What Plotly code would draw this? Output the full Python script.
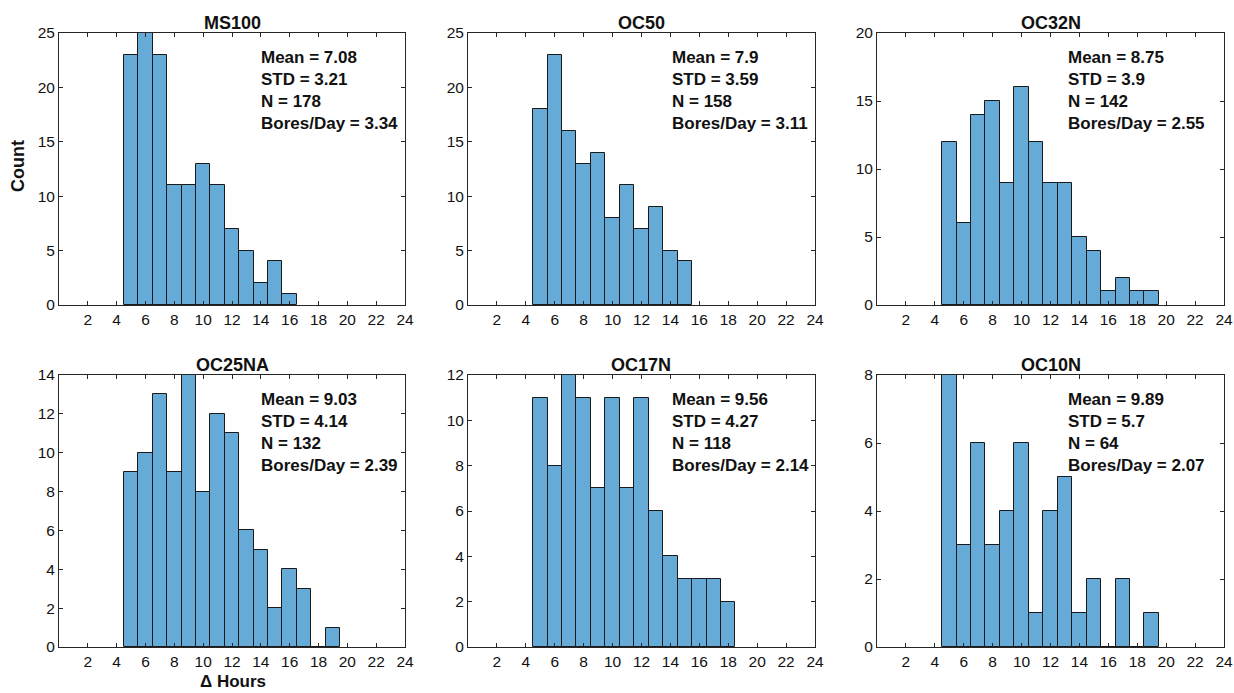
import plotly.graph_objects as go

# ---- data ----
titles = ["MS100", "OC50", "OC32N", "OC25NA", "OC17N", "OC10N"]
ms100 = [23, 25, 23, 11, 11, 13, 11, 7, 5, 2, 4, 1]
oc50 = [18, 23, 16, 13, 14, 8, 11, 7, 9, 5, 4]
oc32n = [12, 6, 14, 15, 9, 16, 12, 9, 9, 5, 4, 1, 2, 1, 1]
oc25na = [9, 10, 13, 9, 14, 8, 12, 11, 6, 5, 2, 4, 3, 0, 1]
oc17n = [11, 8, 12, 11, 7, 11, 7, 11, 6, 4, 3, 3, 3, 2]
oc10n = [8, 3, 6, 3, 4, 6, 1, 4, 5, 1, 2, 0, 2, 0, 1]
first_bin = 5  # bin centres start at 5 h, width 1 h
means = ["7.08", "7.9", "8.75", "9.03", "9.56", "9.89"]
stds = ["3.21", "3.59", "3.9", "4.14", "4.27", "5.7"]
ns = ["178", "158", "142", "132", "118", "64"]
bores = ["3.34", "3.11", "2.55", "2.39", "2.14", "2.07"]
ymax = [25, 25, 20, 14, 12, 8]
ystep = [5, 5, 5, 2, 2, 2]
xticks = list(range(2, 25, 2))

series = [ms100, oc50, oc32n, oc25na, oc17n, oc10n]

# ---- layout positions ----
W, H = 1234, 693
col_px = [(59, 405), (468, 815), (877, 1224)]
row_px = [(33, 305), (375, 647)]
text_x = [13.85, 14.0, 13.1, 13.85, 14.0, 13.1]

FONT = "Liberation Sans, Arial, Helvetica, sans-serif"
INK = "#262626"
BAR = "rgb(102,170,215)"

fig = go.Figure()
layout = dict(
    width=W, height=H, margin=dict(l=0, r=0, t=0, b=0, pad=0),
    paper_bgcolor="white", plot_bgcolor="white",
    showlegend=False, font=dict(family=FONT, color=INK, size=15),
    annotations=[], bargap=0,
)

for i, counts in enumerate(series):
    r, c = divmod(i, 3)
    ax = "" if i == 0 else str(i + 1)
    xs = [first_bin + k for k in range(len(counts))]
    fig.add_trace(go.Bar(
        x=xs, y=counts, width=1, xaxis="x" + ax, yaxis="y" + ax,
        marker=dict(color=BAR, line=dict(color="#1a1a1a", width=1)),
        hoverinfo="x+y",
    ))
    x0, x1 = col_px[c]
    y0, y1 = row_px[r]
    common = dict(showline=True, linecolor=INK, linewidth=1, mirror="ticks",
                  ticks="inside", ticklen=4, tickcolor=INK, showgrid=False,
                  zeroline=False, automargin=False,
                  tickfont=dict(family=FONT, size=15.5, color="#111"))
    layout["xaxis" + ax] = dict(
        domain=[x0 / W, x1 / W], range=[0, 24], tickvals=xticks,
        anchor="y" + ax, **common)
    layout["yaxis" + ax] = dict(
        domain=[1 - y1 / H, 1 - y0 / H], range=[0, ymax[i]],
        tickvals=list(range(0, ymax[i] + 1, ystep[i])),
        anchor="x" + ax, **common)
    # title
    layout["annotations"].append(dict(
        text="<b>%s</b>" % titles[i], xref="paper", yref="paper",
        x=(x0 + x1) / 2 / W, y=1 - (y0 - 10) / H, xanchor="center", yanchor="middle",
        showarrow=False, font=dict(family=FONT, size=18, color="#111")))
    # stats text
    txt = "<b>Mean = %s<br>STD = %s<br>N = %s<br>Bores/Day = %s</b>" % (
        means[i], stds[i], ns[i], bores[i])
    layout["annotations"].append(dict(
        text=txt, xref="x" + ax, yref="paper", x=text_x[i], y=1 - (y0 + 13) / H,
        xanchor="left", yanchor="top", align="left", showarrow=False,
        font=dict(family=FONT, size=17, color="#111")))

layout["annotations"].append(dict(
    text="<b>Count</b>", xref="paper", yref="paper", x=18 / W, y=1 - 166 / H,
    textangle=-90, showarrow=False, xanchor="center", yanchor="middle",
    font=dict(family=FONT, size=18, color="#111")))
layout["annotations"].append(dict(
    text="<b>\u0394 Hours</b>", xref="paper", yref="paper", x=233 / W, y=1 - 681 / H,
    showarrow=False, xanchor="center", yanchor="middle",
    font=dict(family=FONT, size=17, color="#111")))

fig.update_layout(**layout)
fig.write_html("out.html")
